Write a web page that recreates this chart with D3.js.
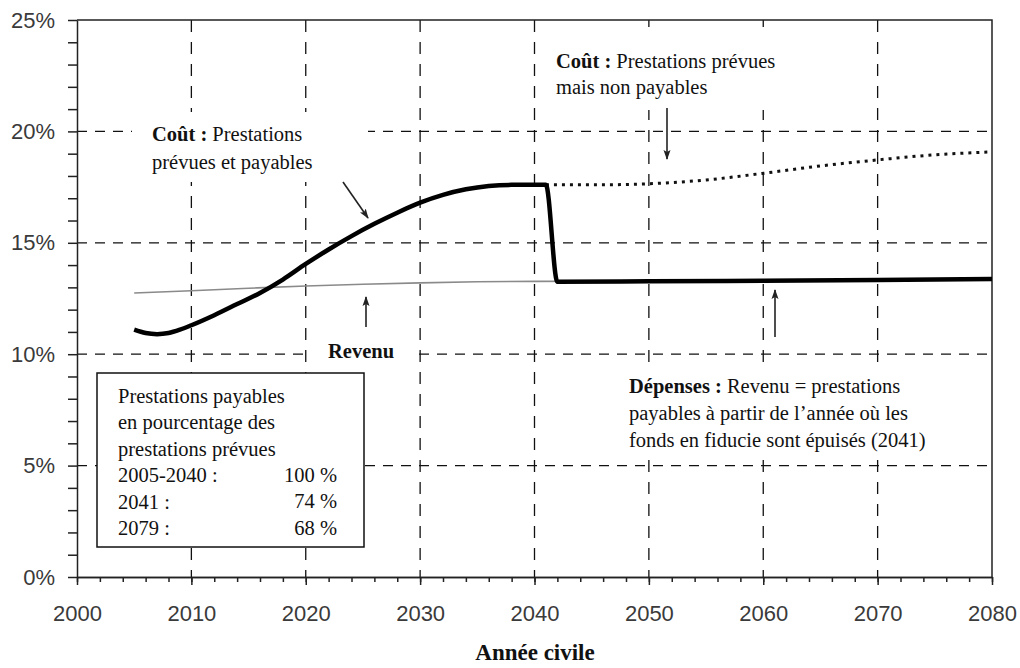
<!DOCTYPE html>
<html>
<head>
<meta charset="utf-8">
<script src="https://cdn.jsdelivr.net/npm/d3@7"></script>
<style>
  body { margin: 0; background: #fff; }
  .tick text { font-family: "Liberation Sans", Arial, sans-serif; font-size: 22px; fill: #3a3a3a; }
  .note { font-family: "Liberation Serif", "Times New Roman", serif; font-size: 20.5px; fill: #111; }
  .note .b { font-weight: bold; }
</style>
</head>
<body>
<script>
// x axis
var xTicks = [2000, 2010, 2020, 2030, 2040, 2050, 2060, 2070, 2080];
// y axis (percent)
var yTicks = [0, 5, 10, 15, 20, 25];

// cost: scheduled and payable, then expenditures = income after 2041
var costYears  = [2005, 2006, 2007, 2008, 2009, 2010, 2012, 2014, 2016, 2018, 2020, 2022, 2024, 2026, 2028, 2030, 2032, 2034, 2036, 2038, 2041, 2042, 2050, 2060, 2070, 2080];
var costValues = [11.1, 10.95, 10.9, 10.95, 11.1, 11.3, 11.75, 12.25, 12.75, 13.35, 14.05, 14.7, 15.3, 15.85, 16.35, 16.8, 17.15, 17.4, 17.55, 17.6, 17.6, 13.25, 13.27, 13.3, 13.33, 13.37];

// income
var incomeYears  = [2005, 2010, 2015, 2020, 2025, 2030, 2035, 2040, 2050, 2060, 2070, 2080];
var incomeValues = [12.75, 12.85, 12.96, 13.06, 13.14, 13.2, 13.25, 13.27, 13.28, 13.3, 13.33, 13.37];

// cost: scheduled but not payable
var unpaidYears  = [2041, 2045, 2050, 2055, 2060, 2065, 2070, 2075, 2080];
var unpaidValues = [17.6, 17.6, 17.65, 17.82, 18.12, 18.45, 18.72, 18.95, 19.08];

function init(){
    var W = 1020, H = 668;
    var left = 77, right = 992, top = 20, bottom = 577;

    var svg = d3.select("body").append("svg")
                .attr("width", W)
                .attr("height", H);

    var x = d3.scaleLinear().domain([2000, 2080]).range([left, right]);
    var y = d3.scaleLinear().domain([0, 25]).range([bottom, top]);

    // grid lines (dashed)
    var grid = svg.append("g").attr("stroke", "#111").attr("stroke-width", 1.3);
    grid.selectAll("line.v")
        .data(xTicks.slice(1, -1))
        .enter().append("line")
        .attr("class", "v")
        .attr("x1", function(d){ return x(d); })
        .attr("x2", function(d){ return x(d); })
        .attr("y1", top).attr("y2", bottom)
        .attr("stroke-dasharray", "12,10");
    grid.selectAll("line.h")
        .data(yTicks.slice(1, -1))
        .enter().append("line")
        .attr("class", "h")
        .attr("y1", function(d){ return y(d); })
        .attr("y2", function(d){ return y(d); })
        .attr("x1", left).attr("x2", right)
        .attr("stroke-dasharray", "10,8");

    // white text boxes covering the grid
    var boxes = [
        [132, 112, 236, 70],
        [537, 27, 260, 83],
        [307, 328, 110, 40],
        [608, 362, 355, 95]
    ];
    svg.selectAll("rect.bg")
        .data(boxes)
        .enter().append("rect")
        .attr("class", "bg")
        .attr("x", function(d){ return d[0]; })
        .attr("y", function(d){ return d[1]; })
        .attr("width", function(d){ return d[2]; })
        .attr("height", function(d){ return d[3]; })
        .attr("fill", "#fff");

    // axes
    svg.append("g")
        .attr("transform", "translate(" + left + ",0)")
        .call(d3.axisLeft(y).tickValues(d3.range(0, 26, 1)).tickSize(9).tickSizeOuter(0)
              .tickFormat(function(d){ return yTicks.indexOf(d) >= 0 ? d + "%" : ""; }).tickPadding(13));
    svg.append("g")
        .attr("transform", "translate(0," + bottom + ")")
        .call(d3.axisBottom(x).tickValues(d3.range(2000, 2081, 2)).tickSize(5).tickSizeOuter(0).tickFormat(""));
    svg.append("g")
        .attr("transform", "translate(0," + bottom + ")")
        .call(d3.axisBottom(x).tickValues(xTicks).tickSize(8).tickSizeOuter(0).tickFormat(d3.format("d")).tickPadding(20));
    svg.selectAll(".domain, .tick line").attr("stroke", "#222").attr("stroke-width", 1.5);

    // frame top and right
    svg.append("path")
        .attr("d", "M" + left + "," + top + "H" + right + "V" + bottom)
        .attr("fill", "none").attr("stroke", "#222").attr("stroke-width", 1.5);

    // lines
    var line = d3.line()
        .x(function(d){ return x(d[0]); })
        .y(function(d){ return y(d[1]); })
        .curve(d3.curveMonotoneX);

    svg.append("path")
        .datum(d3.zip(incomeYears, incomeValues))
        .attr("d", line)
        .attr("fill", "none").attr("stroke", "#8a8a8a").attr("stroke-width", 1.6);

    svg.append("path")
        .datum(d3.zip(unpaidYears, unpaidValues))
        .attr("d", line)
        .attr("fill", "none").attr("stroke", "#111").attr("stroke-width", 3)
        .attr("stroke-dasharray", "3,5");

    svg.append("path")
        .datum(d3.zip(costYears, costValues))
        .attr("d", line)
        .attr("fill", "none").attr("stroke", "#000").attr("stroke-width", 4.5)
        .attr("stroke-linejoin", "round");

    // arrows
    svg.append("defs").append("marker")
        .attr("id", "head")
        .attr("viewBox", "0 0 10 10")
        .attr("refX", 9).attr("refY", 5)
        .attr("markerWidth", 10).attr("markerHeight", 10)
        .attr("markerUnits", "userSpaceOnUse")
        .attr("orient", "auto")
        .append("path")
        .attr("d", "M0,1.5 L10,5 L0,8.5 L2,5 Z")
        .attr("fill", "#222");

    var arrows = [
        [343, 182, 368, 218],
        [667, 108, 667, 159],
        [366, 327, 366, 297],
        [775, 337, 775, 290]
    ];
    svg.selectAll("line.arrow")
        .data(arrows)
        .enter().append("line")
        .attr("class", "arrow")
        .attr("x1", function(d){ return d[0]; })
        .attr("y1", function(d){ return d[1]; })
        .attr("x2", function(d){ return d[2]; })
        .attr("y2", function(d){ return d[3]; })
        .attr("stroke", "#222").attr("stroke-width", 1.6)
        .attr("marker-end", "url(#head)");

    // annotations
    function note(x0, y0, lines, dy){
        var t = svg.append("text").attr("class", "note");
        lines.forEach(function(l, i){
            var ts = t.append("tspan").attr("x", x0).attr("y", y0 + i * dy);
            if (l[0]) ts.append("tspan").attr("class", "b").text(l[0]);
            ts.append("tspan").text(l[1]);
        });
    }
    note(152, 141, [["Coût : ", "Prestations"], ["", "prévues et payables"]], 28);
    note(556, 68, [["Coût : ", "Prestations prévues"], ["", "mais non payables"]], 26);
    note(328, 358, [["Revenu", ""]], 0);
    note(629, 393, [["Dépenses : ", "Revenu = prestations"], ["", "payables à partir de l’année où les"], ["", "fonds en fiducie sont épuisés (2041)"]], 27);

    // legend box
    svg.append("rect")
        .attr("x", 97).attr("y", 373).attr("width", 267).attr("height", 174)
        .attr("fill", "#fff").attr("stroke", "#111").attr("stroke-width", 1.5);
    note(118, 403, [["", "Prestations payables"], ["", "en pourcentage des"], ["", "prestations prévues"],
                    ["", "2005-2040 :"], ["", "2041 :"], ["", "2079 :"]], 26.4);
    var pct = ["100 %", "74 %", "68 %"];
    svg.selectAll("text.pct")
        .data(pct)
        .enter().append("text")
        .attr("class", "note pct")
        .attr("x", 337)
        .attr("y", function(d, i){ return 482 + i * 26.4; })
        .attr("text-anchor", "end")
        .text(function(d){ return d; });

    // axis title
    svg.append("text")
        .attr("class", "note")
        .attr("x", 535).attr("y", 660)
        .attr("text-anchor", "middle")
        .style("font-weight", "bold").style("font-size", "23px")
        .text("Année civile");
}
window.onload = init;
</script>
</body>
</html>
